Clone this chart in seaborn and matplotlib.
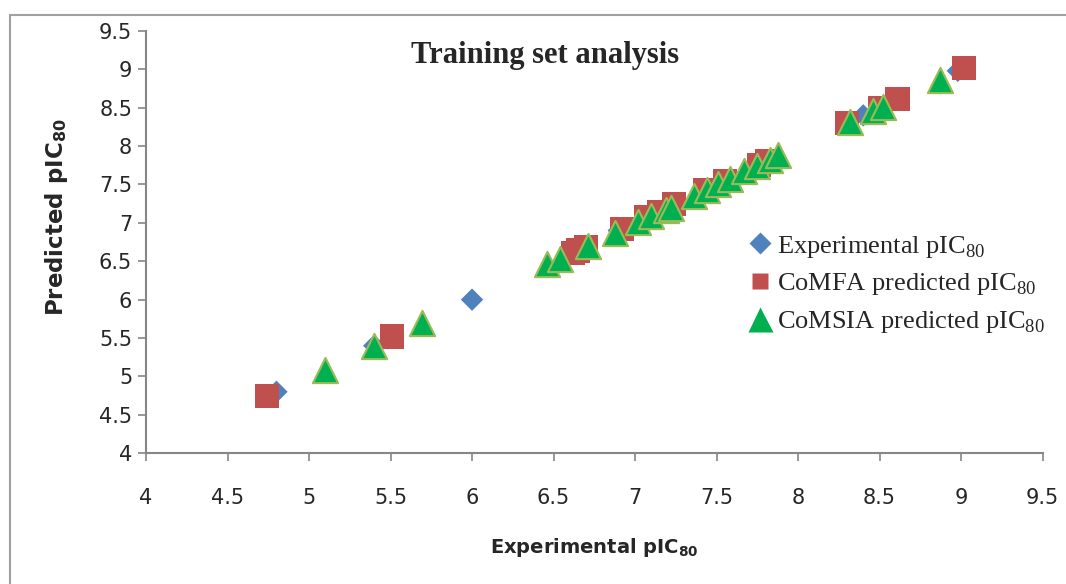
import matplotlib
matplotlib.use("Agg")
import matplotlib.pyplot as plt
import matplotlib.lines as mlines
import seaborn as sns
import pandas as pd

# experimental activities (plotted on y = x)
exp_vals = [4.80, 5.40, 6.00, 6.59, 6.90, 7.10, 8.40, 8.98]

# CoMFA: experimental vs predicted
comfa_x = [4.74, 5.51, 6.62, 6.65, 6.70, 6.92, 7.07, 7.15, 7.24, 7.43,
           7.55, 7.76, 7.81, 8.30, 8.50, 8.61, 9.02]
comfa_y = [4.74, 5.52, 6.61, 6.64, 6.68, 6.92, 7.07, 7.14, 7.24, 7.43,
           7.55, 7.76, 7.80, 8.30, 8.50, 8.61, 9.02]

# CoMSIA: experimental vs predicted
comsia_x = [5.10, 5.40, 5.69, 6.46, 6.54, 6.71, 6.88, 7.02, 7.10, 7.19,
            7.22, 7.36, 7.44, 7.51, 7.58, 7.67, 7.75, 7.83, 7.88, 8.32,
            8.46, 8.52, 8.87]
comsia_y = [5.08, 5.39, 5.69, 6.46, 6.53, 6.70, 6.87, 7.01, 7.09, 7.17,
            7.20, 7.35, 7.43, 7.50, 7.57, 7.67, 7.74, 7.82, 7.88, 8.31,
            8.46, 8.51, 8.86]

ticks = [4, 4.5, 5, 5.5, 6, 6.5, 7, 7.5, 8, 8.5, 9, 9.5]
tick_labels = ["4", "4.5", "5", "5.5", "6", "6.5", "7", "7.5", "8", "8.5", "9", "9.5"]

sns.set_style("white")
plt.rcParams["font.family"] = ["DejaVu Sans"]
# serif subscripts for the legend, bold sans subscripts for axis labels
plt.rcParams["mathtext.fontset"] = "custom"
plt.rcParams["mathtext.rm"] = "Liberation Serif"
plt.rcParams["mathtext.sf"] = "DejaVu Sans:bold"

fig = plt.figure(figsize=(10.66, 5.84), dpi=100)
ax = fig.add_axes([0.137, 0.224, 0.841, 0.723])

df_exp = pd.DataFrame({"x": exp_vals, "y": exp_vals})
df_comfa = pd.DataFrame({"x": comfa_x, "y": comfa_y})
df_comsia = pd.DataFrame({"x": comsia_x, "y": comsia_y})

sns.scatterplot(data=df_exp, x="x", y="y", ax=ax, marker="D", s=130,
                color="#4F81BD", edgecolor="none", zorder=3)
sns.scatterplot(data=df_comfa, x="x", y="y", ax=ax, marker="s", s=300,
                color="#C0504D", edgecolor="none", zorder=4)
sns.scatterplot(data=df_comsia, x="x", y="y", ax=ax, marker="^", s=330,
                color="#00B050", edgecolor="#9BBB59", linewidth=1.5, zorder=5)

ax.set_xlim(4, 9.5)
ax.set_ylim(4, 9.5)
ax.set_xticks(ticks)
ax.set_xticklabels(tick_labels)
ax.set_yticks(ticks)
ax.set_yticklabels(tick_labels)
ax.tick_params(axis="both", labelsize=15, length=6, width=1.2,
               color="#868686", direction="out", left=True, bottom=True)
ax.tick_params(axis="x", pad=19)
ax.tick_params(axis="y", pad=4)

for side in ["top", "right"]:
    ax.spines[side].set_visible(False)
for side in ["left", "bottom"]:
    ax.spines[side].set_color("#868686")
    ax.spines[side].set_linewidth(1.5)

ax.set_xlabel(r"Experimental pIC$_{\mathsf{80}}$", fontsize=14, fontweight="bold", labelpad=20)
ax.set_ylabel(r"Predicted pIC$_{\mathsf{80}}$", fontsize=16.5, fontweight="bold")
ax.yaxis.set_label_coords(-0.085, 0.56)

ax.text(0.445, 0.943, "Training set analysis", transform=ax.transAxes,
        ha="center", va="center", fontsize=22, fontweight="bold",
        family="Liberation Serif")

handles = [
    mlines.Line2D([], [], linestyle="none", marker="D", markersize=11,
                  color="#4F81BD", markeredgecolor="none"),
    mlines.Line2D([], [], linestyle="none", marker="s", markersize=12,
                  color="#C0504D", markeredgecolor="none"),
    mlines.Line2D([], [], linestyle="none", marker="^", markersize=18,
                  color="#00B050", markeredgecolor="none"),
]
labels = [r"Experimental pIC$_{\mathrm{80}}$", r"CoMFA predicted pIC$_{\mathrm{80}}$",
          r"CoMSIA predicted pIC$_{\mathrm{80}}$"]
ax.legend(handles, labels, loc="upper left", bbox_to_anchor=(0.655, 0.545),
          frameon=False, handletextpad=0.05, labelspacing=0.45,
          borderaxespad=0, handlelength=1.2,
          prop={"family": "Liberation Serif", "size": 19})

# outer chart frame (left and top edges visible)
fig.add_artist(mlines.Line2D([10 / 1066, 10 / 1066], [0, 1 - 15 / 584],
                             transform=fig.transFigure, color="#A0A0A0", linewidth=1.5))
fig.add_artist(mlines.Line2D([10 / 1066, 1], [1 - 15 / 584, 1 - 15 / 584],
                             transform=fig.transFigure, color="#A0A0A0", linewidth=1.5))

fig.savefig("out.png", dpi=100)
